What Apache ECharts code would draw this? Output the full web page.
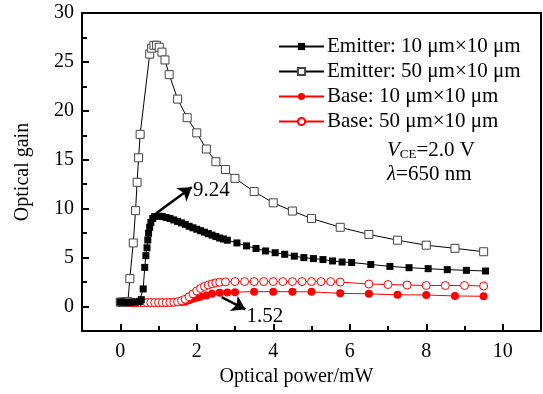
<!DOCTYPE html>
<html><head><meta charset="utf-8">
<script src="https://cdn.jsdelivr.net/npm/echarts@6/dist/echarts.min.js"></script>
<style>html,body{margin:0;padding:0;background:#fff}#c{width:543px;height:394px}</style>
</head><body><div id="c"></div>
<script>
// Emitter 10x10 (filled squares)
const xE10 = [0,0.1,0.2,0.3,0.4,0.5,0.55,0.6,0.64,0.67,0.7,0.72,0.74,0.77,0.8,0.85,0.9,1.0,1.1,1.2,1.3,1.4,1.5,1.6,1.7,1.8,1.9,2.0,2.1,2.2,2.3,2.4,2.5,2.6,2.7,2.8,3.05,3.3,3.55,3.8,4.05,4.3,4.55,4.8,5.05,5.3,5.55,5.8,6.05,6.55,7.05,7.55,8.05,8.55,9.05,9.55];
const yE10 = [0.45,0.45,0.45,0.45,0.45,0.5,0.7,1.8,4.0,5.2,6.0,6.8,7.5,8.1,8.6,9.0,9.2,9.24,9.2,9.1,9.0,8.85,8.7,8.55,8.4,8.2,8.05,7.9,7.75,7.6,7.45,7.3,7.15,7.0,6.9,6.78,6.5,6.2,5.93,5.68,5.5,5.34,5.15,5.0,4.9,4.8,4.66,4.55,4.5,4.3,4.1,3.97,3.87,3.77,3.7,3.63];
// Emitter 50x10 (open squares)
const xE50 = [0,0.05,0.1,0.15,0.2,0.25,0.34,0.4,0.44,0.48,0.52,0.77,0.82,0.88,0.95,1.02,1.09,1.17,1.28,1.5,1.75,2.0,2.25,2.5,2.75,3.0,3.5,4.0,4.5,5.0,5.75,6.5,7.25,8.0,8.75,9.5];
const yE50 = [0.45,0.45,0.45,0.45,0.5,2.85,6.5,9.8,12.7,15.2,17.6,25.8,26.4,26.7,26.7,26.5,26.0,25.2,23.7,21.2,19.3,17.75,16.1,14.8,14.0,13.1,11.75,10.6,9.76,9.0,8.1,7.37,6.78,6.27,5.95,5.6];
// Base 10x10 (filled circles)
const xB10 = [0,0.03,0.06,0.1,0.2,0.3,0.4,0.5,0.6,0.7,0.8,0.9,1.0,1.1,1.2,1.3,1.4,1.5,1.6,1.7,1.8,1.9,2.0,2.1,2.25,2.4,2.6,2.8,3.0,3.5,4.0,4.5,5.0,5.75,6.5,7.25,8.0,8.75,9.5];
const yB10 = [0.4,0.4,0.4,0.4,0.4,0.4,0.4,0.4,0.4,0.4,0.4,0.4,0.4,0.4,0.4,0.4,0.42,0.44,0.46,0.5,0.65,0.8,0.9,1.0,1.13,1.3,1.4,1.44,1.47,1.52,1.52,1.52,1.5,1.35,1.3,1.2,1.18,1.08,1.05];
// Base 50x10 (open circles)
const xB50 = [0,0.04,0.08,0.12,0.16,0.2,0.24,0.28,0.32,0.36,0.4,0.5,0.6,0.7,0.8,0.9,1.0,1.1,1.2,1.3,1.4,1.5,1.6,1.7,1.8,1.9,2.0,2.1,2.2,2.3,2.4,2.5,2.6,2.75,3.0,3.25,3.5,3.75,4.0,4.25,4.5,4.75,5.0,5.25,5.5,5.75,6.5,7.0,7.5,8.0,8.5,9.0,9.5];
const yB50 = [0.4,0.4,0.4,0.4,0.4,0.4,0.4,0.4,0.4,0.4,0.4,0.4,0.4,0.4,0.4,0.4,0.4,0.4,0.4,0.42,0.45,0.5,0.6,0.75,1.0,1.3,1.6,1.85,2.05,2.2,2.32,2.42,2.48,2.52,2.55,2.55,2.55,2.55,2.55,2.55,2.55,2.55,2.55,2.55,2.55,2.5,2.3,2.25,2.2,2.15,2.15,2.15,2.1];

const names = ['Emitter: 10 μm×10 μm','Emitter: 50 μm×10 μm','Base: 10 μm×10 μm','Base: 50 μm×10 μm'];
const xMajor = [0,2,4,6,8,10];
const xMinor = [1,3,5,7,9];
const yMajor = [0,5,10,15,20,25,30];
const yMinor = [-2.5,2.5,7.5,12.5,17.5,22.5,27.5];
const annE = {from:[0.95,9.55], to:[1.87,12.2], label:[1.9,11.9], text:'9.24'};
const annB = {from:[2.65,0.96], to:[3.27,-0.28], label:[3.78,-1.05], text:'1.52'};

const zip = (xs, ys) => xs.map((x,i)=>[x, ys[i]]);
const FONT = 'Liberation Serif';
const FS = 20;

const chart = echarts.init(document.getElementById('c'), null, {renderer:'canvas'});
const axisTextBase = {fontFamily: FONT, fontSize: FS, color:'#000'};

chart.setOption({
  animation:false,
  backgroundColor:'#fff',
  grid:{left:82, right:2, top:13, bottom:63, show:true, borderColor:'#000', borderWidth:2, containLabel:false},
  legend:{
    data:names, orient:'vertical', left:273, top:31, itemWidth:45, itemHeight:9, itemGap:4,
    textStyle:{fontFamily:FONT, fontSize:21, color:'#000', lineHeight:20, padding:[0,0,0,-2]}
  },
  xAxis:[{
    type:'value', min:-1, max:11, name:'Optical power/mW', nameLocation:'middle', nameGap:36,
    nameTextStyle:Object.assign({}, axisTextBase, {padding:[0,30,0,0]}),
    axisLine:{show:true, onZero:false, lineStyle:{color:'#000', width:2}},
    axisTick:{show:true, inside:true, length:7, lineStyle:{width:2, color:'#000'}, customValues:xMajor},
    axisLabel:{customValues:xMajor, margin:11, fontFamily:FONT, fontSize:FS, color:'#000'},
    splitLine:{show:false}
  },{
    type:'value', min:-1, max:11, position:'bottom', gridIndex:0,
    axisLine:{show:false, onZero:false},
    axisTick:{show:true, inside:true, length:5, lineStyle:{width:2, color:'#000'}, customValues:xMinor},
    axisLabel:{show:false}, splitLine:{show:false}
  }],
  yAxis:[{
    type:'value', min:-2.5, max:30, name:'Optical gain', nameLocation:'middle', nameGap:49,
    nameTextStyle:axisTextBase,
    axisLine:{show:true, onZero:false, lineStyle:{color:'#000', width:2}},
    axisTick:{show:true, inside:true, length:7, lineStyle:{width:2, color:'#000'}, customValues:yMajor},
    axisLabel:{customValues:yMajor, margin:8, fontFamily:FONT, fontSize:FS, color:'#000'},
    splitLine:{show:false}
  },{
    type:'value', min:-2.5, max:30, position:'left', gridIndex:0,
    axisLine:{show:false, onZero:false},
    axisTick:{show:true, inside:true, length:5, lineStyle:{width:2, color:'#000'}, customValues:yMinor},
    axisLabel:{show:false}, splitLine:{show:false}
  }],
  series:[
    {name:names[2], type:'line', data:zip(xB10,yB10), symbol:'circle', symbolSize:8,
     itemStyle:{color:'#ff0000'}, lineStyle:{color:'#ff0000', width:1},
     markLine:{silent:true, symbol:['none','arrow'], symbolSize:13,
       lineStyle:{color:'#000', width:2.5, type:'solid'}, label:{show:false},
       data:[[{coord:annB.from},{coord:annB.to}]]},
     markPoint:{symbol:'circle', symbolSize:0, silent:true,
       label:{show:true, position:'inside', formatter:annB.text, fontFamily:FONT, fontSize:21, color:'#000'},
       data:[{coord:annB.label}]}
    },
    {name:names[3], type:'line', data:zip(xB50,yB50), symbol:'circle', symbolSize:8,
     itemStyle:{color:'#fff', borderColor:'#ff0000', borderWidth:1}, lineStyle:{color:'#ff0000', width:1}},
    {name:names[1], type:'line', data:zip(xE50,yE50), symbol:'rect', symbolSize:8,
     itemStyle:{color:'#fff', borderColor:'#444', borderWidth:1}, lineStyle:{color:'#000', width:1}},
    {name:names[0], type:'line', data:zip(xE10,yE10), symbol:'rect', symbolSize:7,
     itemStyle:{color:'#000'}, lineStyle:{color:'#000', width:1},
     markLine:{silent:true, symbol:['none','arrow'], symbolSize:13,
       lineStyle:{color:'#000', width:2.5, type:'solid'}, label:{show:false},
       data:[[{coord:annE.from},{coord:annE.to}]]},
     markPoint:{symbol:'circle', symbolSize:0, silent:true,
       label:{show:true, position:'right', distance:0, formatter:annE.text, fontFamily:FONT, fontSize:21, color:'#000'},
       data:[{coord:annE.label}]}
    }
  ],
  graphic:[
    {type:'text', left:387, top:140, style:{
      text:'{v|V}{s|CE}{n|=2.0 V}',
      rich:{
        v:{fontFamily:FONT, fontSize:21, fontStyle:'italic', fill:'#000'},
        s:{fontFamily:FONT, fontSize:13, fill:'#000', padding:[9,0,0,0]},
        n:{fontFamily:FONT, fontSize:21, fill:'#000'}
      }}},
    {type:'text', left:387, top:164, style:{
      text:'{l|λ}{n|=650 nm}',
      rich:{
        l:{fontFamily:FONT, fontSize:21, fontStyle:'italic', fill:'#000'},
        n:{fontFamily:FONT, fontSize:21, fill:'#000'}
      }}}
  ]
});
</script></body></html>
